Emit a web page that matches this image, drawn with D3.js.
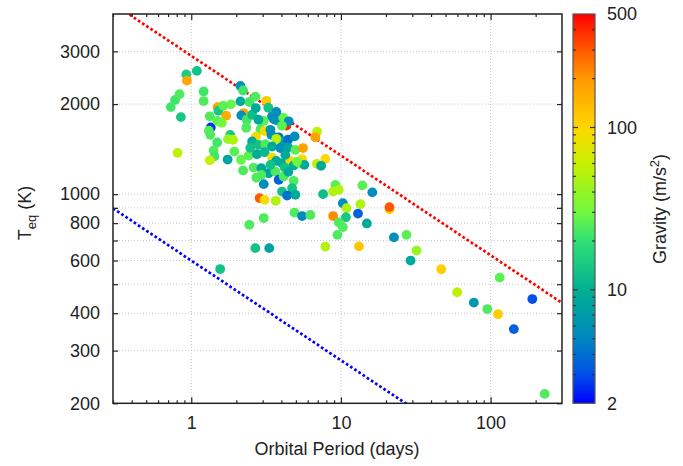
<!DOCTYPE html>
<html>
<head>
<meta charset="utf-8">
<script src="https://cdn.jsdelivr.net/npm/d3@7"></script>
<style>
  body { margin: 0; background: #fff; }
  text { font-family: "Liberation Sans", Arial, sans-serif; fill: #222; }
</style>
</head>
<body>
<div id="chart"></div>
<script>
// planets: orbital period (days), equilibrium temperature (K), surface gravity (m/s^2)
var period = [0.73,0.78,0.835,0.926,1.09,0.936,0.853,1.21,1.21,1.50,1.52,1.71,1.84,1.64,1.35,1.33,1.31,1.49,1.60,1.34,
  1.49,1.82,1.76,1.90,0.81,1.41,1.43,1.33,1.75,1.94,2.15,2.22,2.13,2.22,2.13,2.45,2.68,3.18,2.24,2.16,
  2.35,2.55,2.70,3.05,2.90,3.09,3.47,3.55,3.84,3.65,4.11,4.32,4.48,3.38,3.43,3.84,4.06,4.43,4.91,4.04,
  3.70,2.71,2.55,2.82,3.13,3.47,3.94,4.43,4.96,5.58,2.42,2.75,3.09,3.47,3.69,4.04,4.59,4.83,5.28,5.50,
  5.70,5.09,2.61,2.94,3.29,3.65,4.21,2.94,3.84,4.14,4.83,3.05,4.72,4.04,4.37,4.96,2.86,3.09,3.67,3.05,
  2.44,4.89,5.50,6.25,2.68,3.32,1.56,7.60,6.93,6.75,7.87,6.91,7.37,9.19,8.87,9.67,13.9,16.2,10.3,10.9,
  13.5,13.0,8.87,10.8,14.9,9.67,10.3,9.48,7.87,21.1,21.1,13.2,22.6,27.4,32.0,29.2,46.8,115,59.8,77.3,
  95,112,190,143,230,2.33,2.81,3.27,3.70,4.25,2.48,3.38,4.45,2.72];
var teq = [1954,2065,2158,2512,2582,2395,1809,2203,2047,1954,1900,1829,1995,1974,1671,1820,1629,1758,1731,1578,
  1488,1578,1527,1520,1374,1399,1337,1297,1305,1388,1303,1200,2301,2221,2042,2032,2118,2051,1866,1833,
  1773,1842,1940,1758,1649,1625,1820,1786,1758,1773,1803,1694,1752,1641,1578,1549,1500,1520,1560,1692,
  1531,1560,1500,1462,1469,1443,1426,1432,1406,1426,1346,1360,1381,1325,1291,1270,1291,1247,1270,1309,
  1253,1285,1227,1222,1175,1190,1227,1160,1117,1146,1108,1080,1047,1020,989,995,970,957,950,832,
  790,868,845,852,660,660,562,1000,1619,1550,1312,1263,1244,1074,1020,1034,1070,1014,933,898,
  926,861,845,837,798,805,776,731,668,890,905,669,717,731,648,600,561,526,470,434,
  413,397,446,354,215,1667,1773,1944,1884,1353,1428,1253,1187,1136];
var gravity = [22,22,24,15,13,170,14,22,24,170,14,160,28,26,2.6,24,26,26,30,24,
  22,14,40,50,55,24,22,60,8,26,28,24,6,22,9,22,24,115,170,5.5,
  22,12,9,26,24,90,6,5,5.5,6,28,400,5.5,6,5.5,4,8,4,5.5,26,
  55,90,9,13,24,9,5.5,8,26,180,26,9,11,90,9,9,95,9,28,95,
  9,30,24,9,8,24,13,24,3.5,24,24,5.5,13,13,4,9,300,90,50,24,
  24,24,5,24,13,8,13,12,55,180,100,55,9,26,50,50,26,5.5,5.5,50,
  50,3.5,220,14,9,24,24,24,50,100,300,120,5.5,26,40,9,110,26,55,6.5,
  24,110,3,3.5,24,24,9,13,5.5,9,13,13,9,24];

var xTicks = [1, 10, 100];
var yTickValues = [200, 300, 400, 500, 600, 700, 800, 900, 1000, 2000, 3000];
var yTickLabels = [200, 300, 400, 600, 800, 1000, 2000, 3000];
var cTickLabels = [2, 10, 100, 500];

// colour palette (gravity stops -> colours)
var gStops = [2, 3, 5, 10, 20, 30, 60, 100, 200, 300, 500];
var gColors = ["#0000ff", "#0050e8", "#0088c0", "#00b092", "#30e075", "#70f840", "#c8f000", "#ffd700", "#ff9800", "#ff5800", "#ff0000"];

var W = 683, H = 466;
var pLeft = 113, pRight = 562, pTop = 14, pBottom = 403.3;

var svg = d3.select("#chart").append("svg")
    .attr("width", W)
    .attr("height", H);

var x = d3.scaleLog().domain([0.3, 300]).range([pLeft, pRight]);
var y = d3.scaleLog().domain([200, 4000]).range([pBottom, pTop]);
var color = d3.scaleLog().domain(gStops).range(gColors).interpolate(d3.interpolateRgb);

// grid
var grid = svg.append("g").attr("stroke", "#c8c8c8").attr("stroke-width", 1).attr("stroke-dasharray", "1,2");
xTicks.forEach(function(d) {
    grid.append("line").attr("x1", x(d)).attr("x2", x(d)).attr("y1", pTop).attr("y2", pBottom);
});
yTickValues.filter(function(d) { return d > 200; }).forEach(function(d) {
    grid.append("line").attr("x1", pLeft).attr("x2", pRight).attr("y1", y(d)).attr("y2", y(d));
});

// reference lines, Teq ~ P^(-1/3)
svg.append("clipPath").attr("id", "plotclip")
    .append("rect").attr("x", pLeft).attr("y", pTop).attr("width", pRight - pLeft).attr("height", pBottom - pTop);

var refLines = [{k: 2900, c: "#ff0000"}, {k: 600, c: "#0000ff"}];
var pSamples = d3.range(0, 41).map(function(i) { return 0.3 * Math.pow(1000, i / 40); });
var line = d3.line().x(function(d) { return x(d[0]); }).y(function(d) { return y(d[1]); });
refLines.forEach(function(r) {
    svg.append("path")
        .attr("clip-path", "url(#plotclip)")
        .attr("d", line(pSamples.map(function(p) { return [p, r.k * Math.pow(p, -1 / 3)]; })))
        .attr("fill", "none")
        .attr("stroke", r.c)
        .attr("stroke-width", 2.7)
        .attr("stroke-dasharray", "2.7,2.3");
});

// points
var pts = period.map(function(p, i) { return {p: p, t: teq[i], g: gravity[i]}; });
svg.append("g").attr("clip-path", "url(#plotclip)")
    .selectAll("circle")
    .data(pts)
    .enter().append("circle")
    .attr("cx", function(d) { return x(d.p); })
    .attr("cy", function(d) { return y(d.t); })
    .attr("r", 4.9)
    .attr("fill", function(d) { return color(d.g); });

// axes
var fmt = d3.format("d");
svg.append("g")
    .attr("transform", "translate(0," + pBottom + ")")
    .call(d3.axisBottom(x).tickValues(xTicks).tickSize(-6).tickPadding(13).tickFormat(fmt));
svg.append("g")
    .attr("transform", "translate(0," + pTop + ")")
    .call(d3.axisTop(x).tickValues(xTicks).tickSize(-6).tickFormat(""));

var xMinor = [];
[0.1, 1, 10, 100].forEach(function(dec) {
    d3.range(2, 10).forEach(function(m) {
        var v = dec * m;
        if (v > 0.3 && v < 300) xMinor.push(v);
    });
});
svg.append("g")
    .attr("transform", "translate(0," + pBottom + ")")
    .call(d3.axisBottom(x).tickValues(xMinor).tickSize(-3).tickFormat(""));
svg.append("g")
    .attr("transform", "translate(0," + pTop + ")")
    .call(d3.axisTop(x).tickValues(xMinor).tickSize(-3).tickFormat(""));

svg.append("g")
    .attr("transform", "translate(" + pLeft + ",0)")
    .call(d3.axisLeft(y).tickValues(yTickValues).tickSize(-5).tickPadding(13)
        .tickFormat(function(d) { return yTickLabels.indexOf(d) >= 0 ? fmt(d) : ""; }));
svg.append("g")
    .attr("transform", "translate(" + pRight + ",0)")
    .call(d3.axisRight(y).tickValues(yTickValues).tickSize(-5).tickFormat(""));

svg.selectAll(".domain").remove();
svg.selectAll(".tick line").attr("stroke", "#222").attr("stroke-width", 1.2);
svg.selectAll(".tick text").style("font-size", "18px").attr("fill", "#222");

svg.append("rect")
    .attr("x", pLeft).attr("y", pTop)
    .attr("width", pRight - pLeft).attr("height", pBottom - pTop)
    .attr("fill", "none").attr("stroke", "#222").attr("stroke-width", 1.5);

// colour bar
var cbX = 573, cbW = 22;
var c = d3.scaleLog().domain([2, 500]).range([pBottom, pTop]);
var grad = svg.append("defs").append("linearGradient")
    .attr("id", "gbar").attr("x1", 0).attr("y1", 1).attr("x2", 0).attr("y2", 0);
d3.range(0, 61).forEach(function(i) {
    var f = i / 60;
    grad.append("stop")
        .attr("offset", f)
        .attr("stop-color", color(2 * Math.pow(250, f)));
});
svg.append("rect")
    .attr("x", cbX).attr("y", pTop).attr("width", cbW).attr("height", pBottom - pTop)
    .attr("fill", "url(#gbar)")
    .attr("stroke", "#555").attr("stroke-width", 1.2);

var cMajor = [10, 100];
var cMinor = [3, 4, 5, 6, 7, 8, 9, 20, 30, 40, 50, 60, 70, 80, 90, 200, 300, 400];
var cb = svg.append("g").attr("stroke", "#333").attr("stroke-width", 1.2);
cMajor.concat(cMinor).forEach(function(v) {
    var len = cMajor.indexOf(v) >= 0 ? 5 : 3;
    cb.append("line").attr("x1", cbX).attr("x2", cbX + len).attr("y1", c(v)).attr("y2", c(v));
    cb.append("line").attr("x1", cbX + cbW).attr("x2", cbX + cbW - len).attr("y1", c(v)).attr("y2", c(v));
});
svg.append("g")
    .attr("transform", "translate(" + (cbX + cbW) + ",0)")
    .call(d3.axisRight(c).tickValues(cTickLabels).tickSize(0).tickPadding(12).tickFormat(fmt))
    .call(function(g) { g.select(".domain").remove(); })
    .selectAll("text").style("font-size", "18px").attr("fill", "#222");

// axis titles
svg.append("text")
    .attr("x", (pLeft + pRight) / 2 - 0.5)
    .attr("y", 455)
    .attr("text-anchor", "middle")
    .style("font-size", "18px")
    .text("Orbital Period (days)");

var yl = svg.append("text")
    .attr("transform", "translate(31,213) rotate(-90)")
    .attr("text-anchor", "middle")
    .style("font-size", "18px");
yl.append("tspan").text("T");
yl.append("tspan").attr("dy", 5).style("font-size", "13px").text("eq");
yl.append("tspan").attr("dy", -5).text(" (K)");

var gl = svg.append("text")
    .attr("transform", "translate(666,209) rotate(-90)")
    .attr("text-anchor", "middle")
    .style("font-size", "18px");
gl.append("tspan").text("Gravity (m/s");
gl.append("tspan").attr("dy", -7).style("font-size", "13px").text("2");
gl.append("tspan").attr("dy", 7).text(")");
</script>
</body>
</html>
